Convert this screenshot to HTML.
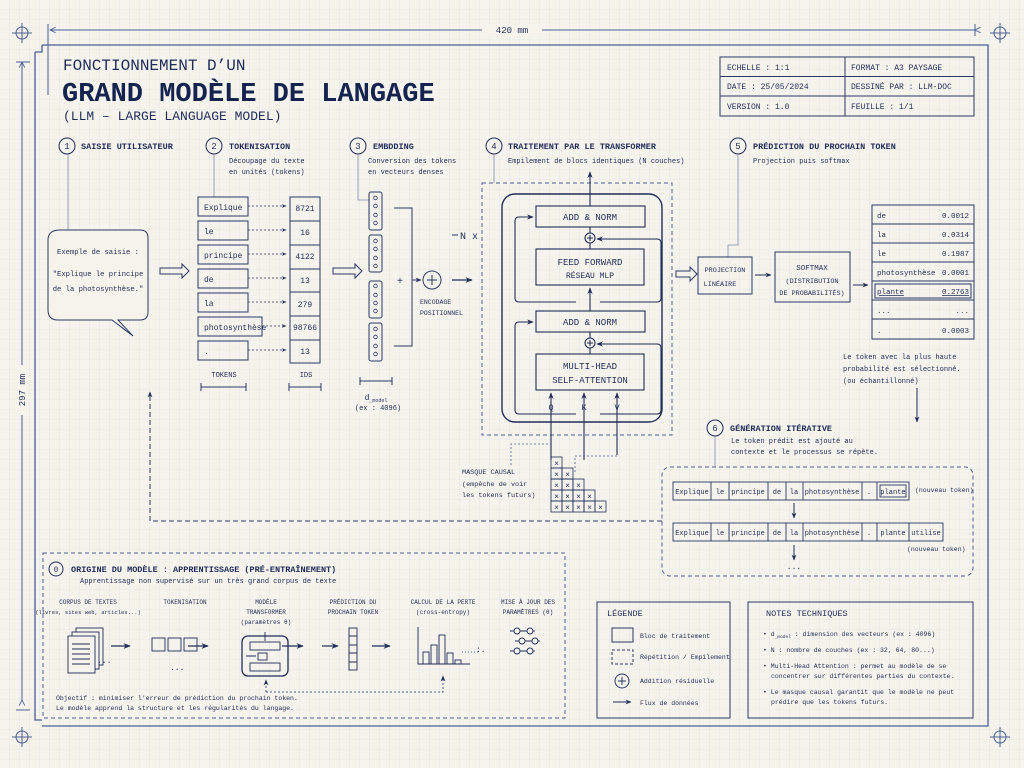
<!DOCTYPE html>
<html><head><meta charset="utf-8"><style>
html,body{margin:0;padding:0;background:#f6f3ec}
svg{display:block}
text{font-family:"Liberation Mono",monospace;fill:#1f2d58}
</style></head><body>
<svg width="1024" height="768" viewBox="0 0 1024 768" xmlns="http://www.w3.org/2000/svg">
<defs>
<pattern id="g" width="10" height="10" patternUnits="userSpaceOnUse"><path d="M10 0V10H0" fill="none" stroke="#d8dde8" stroke-width="0.6"/></pattern>
<marker id="a" viewBox="0 0 10 10" refX="9" refY="5" markerWidth="6" markerHeight="6" orient="auto"><path d="M0 1L10 5L0 9L3 5Z" fill="#1f2d58"/></marker>
<marker id="o" viewBox="0 0 10 10" refX="1" refY="5" markerWidth="7" markerHeight="7" orient="auto"><path d="M9 1L1 5L9 9" fill="none" stroke="#4a5f95" stroke-width="1.2"/></marker>
</defs>
<rect width="1024" height="768" fill="#f6f3ec"/>
<rect width="1024" height="768" fill="url(#g)"/>
<g stroke="#4a5f95" fill="none" stroke-width="1">
<g id="c"><circle cx="22" cy="33" r="6"/><path d="M12 33H32M22 23V43"/></g>
<use href="#c" x="978"/><use href="#c" y="704"/><use href="#c" x="978" y="704"/>
<path d="M50 30H975" marker-start="url(#o)" marker-end="url(#o)"/>
<path d="M48 24V95M975 24V36"/>
<path d="M22 62V700" marker-start="url(#o)" marker-end="url(#o)"/>
<path d="M16 62H30M16 710H30"/>
<path d="M42 45H988V726H42M35 52V720H42" stroke-width="1.3"/>
<path d="M42 45V52H35" stroke-width="1.3"/>
</g>
<rect x="482" y="24" width="60" height="12" fill="#f6f3ec"/>
<text x="512" y="33" font-size="9" text-anchor="middle">420 mm</text>
<rect x="16" y="365" width="12" height="50" fill="#f6f3ec"/>
<text x="25" y="390" font-size="9" text-anchor="middle" transform="rotate(-90 25 390)">297 mm</text>

<text x="63" y="70" font-size="16" fill="#1f2d58">FONCTIONNEMENT D’UN</text>
<text x="62" y="101" font-size="27" font-weight="bold" style="fill:#14244f">GRAND MODÈLE DE LANGAGE</text>
<text x="63" y="120" font-size="13">(LLM – LARGE LANGUAGE MODEL)</text>

<g stroke="#2a3a66" fill="none" stroke-width="1"><rect x="720" y="57" width="254" height="59"/><path d="M720 76.5H974M720 96H974M845 57V116"/></g>
<g font-size="8"><text x="727" y="70">ECHELLE : 1:1</text><text x="851" y="70">FORMAT : A3 PAYSAGE</text>
<text x="727" y="89">DATE : 25/05/2024</text><text x="851" y="89">DESSINÉ PAR : LLM-DOC</text>
<text x="727" y="109">VERSION : 1.0</text><text x="851" y="109">FEUILLE :  1/1</text></g>

<g stroke="#1f2d58" fill="none" stroke-width="1">
<circle cx="67" cy="146" r="8"/><circle cx="214" cy="146" r="8"/><circle cx="358" cy="146" r="8"/><circle cx="494" cy="146" r="8"/><circle cx="738" cy="146" r="8"/><circle cx="715" cy="428" r="8"/><circle cx="56" cy="569" r="7"/>
</g>
<g font-size="9" text-anchor="middle"><text x="67" y="149">1</text><text x="214" y="149">2</text><text x="358" y="149">3</text><text x="494" y="149">4</text><text x="738" y="149">5</text><text x="715" y="431">6</text><text x="56" y="572" font-size="8">0</text></g>
<g font-size="8.5" font-weight="bold">
<text x="81" y="149">SAISIE UTILISATEUR</text><text x="229" y="149">TOKENISATION</text><text x="373" y="149">EMBDDING</text><text x="508" y="149">TRAITEMENT PAR LE TRANSFORMER</text><text x="753" y="149">PRÉDICTION DU PROCHAIN TOKEN</text><text x="730" y="431">GÉNÉRATION ITÉRATIVE</text><text x="71" y="572">ORIGINE DU MODÈLE : APPRENTISSAGE (PRÉ-ENTRAÎNEMENT)</text>
</g>
<g font-size="7">
<text x="229" y="163">Découpage du texte</text><text x="229" y="174">en unités (tokens)</text>
<text x="368" y="163">Conversion des tokens</text><text x="368" y="174">en vecteurs denses</text>
<text x="508" y="163">Empilement de blocs identiques (N couches)</text>
<text x="753" y="163">Projection puis softmax</text>
<text x="731" y="443">Le token prédit est ajouté au</text><text x="731" y="454">contexte et le processus se répète.</text>
<text x="80" y="583">Apprentissage non supervisé sur un très grand corpus de texte</text>
</g>
<g stroke="#7f8db0" fill="none" stroke-width="0.8">
<path d="M68 154V230M214 154V197M358 154V200H369M494 154V183M738 154V245H728V257M715 436V467"/>
</g>

<path d="M60 230H140Q148 230 148 238V312Q148 320 140 320H118L133 336L112 320H58Q48 320 48 310V240Q48 230 60 230Z" fill="#f6f3ec" stroke="#2a3a66" stroke-width="1"/>
<g font-size="7.2" text-anchor="middle"><text x="98" y="254">Exemple de saisie :</text><text x="98" y="276">"Explique le principe</text><text x="98" y="291">de la photosynthèse."</text></g>
<g fill="none" stroke="#2a3a66" stroke-width="1"><path d="M160 268H182V264L189 271L182 278V274H160Z"/><path d="M333 268H355V264L362 271L355 278V274H333Z"/><path d="M676 271H690V267L697 274L690 281V277H676Z"/></g>

<g stroke="#2a3a66" fill="none" stroke-width="1">
<rect x="198" y="197" width="50" height="19"/><rect x="198" y="221" width="50" height="19"/><rect x="198" y="245" width="50" height="19"/><rect x="198" y="269" width="50" height="19"/><rect x="198" y="293" width="50" height="19"/><rect x="198" y="317" width="64" height="19"/><rect x="198" y="341" width="50" height="19"/>
<rect x="290" y="197" width="30" height="166"/><path d="M290 221H320M290 245H320M290 269H320M290 292H320M290 316H320M290 340H320"/>
</g>
<g stroke="#2a3a66" stroke-width="0.8" stroke-dasharray="2 2" marker-end="url(#a)"><path d="M248 206H286"/><path d="M248 230H286"/><path d="M248 254H286"/><path d="M248 278H286"/><path d="M248 302H286"/><path d="M262 326H286"/><path d="M248 350H286"/></g>
<g font-size="8"><text x="204" y="210">Explique</text><text x="204" y="234">le</text><text x="204" y="258">principe</text><text x="204" y="282">de</text><text x="204" y="306">la</text><text x="204" y="330">photosynthèse</text><text x="204" y="354">.</text></g>
<g font-size="8" text-anchor="middle"><text x="305" y="211">8721</text><text x="305" y="235">16</text><text x="305" y="259">4122</text><text x="305" y="283">13</text><text x="305" y="307">279</text><text x="305" y="330">98766</text><text x="305" y="354">13</text></g>
<g font-size="7" text-anchor="middle"><text x="224" y="377">TOKENS</text><text x="306" y="377">IDS</text></g>
<g stroke="#2a3a66" fill="none"><path d="M201 387H246M201 383V391M246 383V391M289 387H321M289 383V391M321 383V391M360 381H392M360 377V385M392 377V385"/></g>
<text x="376" y="400" font-size="8" text-anchor="middle">d<tspan font-size="5" dy="2">_model</tspan></text>
<text x="378" y="410" font-size="7" text-anchor="middle">(ex : 4096)</text>

<g stroke="#2a3a66" fill="none" stroke-width="1">
<rect x="369" y="192" width="13" height="38" rx="2"/><rect x="369" y="235" width="13" height="37" rx="2"/><rect x="369" y="281" width="13" height="37" rx="2"/><rect x="369" y="323" width="13" height="38" rx="2"/>
<g stroke-width="0.8"><circle cx="375.5" cy="198" r="1.8"/><circle cx="375.5" cy="206" r="1.8"/><circle cx="375.5" cy="215" r="1.8"/><circle cx="375.5" cy="223" r="1.8"/>
<circle cx="375.5" cy="241" r="1.8"/><circle cx="375.5" cy="249" r="1.8"/><circle cx="375.5" cy="258" r="1.8"/><circle cx="375.5" cy="266" r="1.8"/>
<circle cx="375.5" cy="286" r="1.8"/><circle cx="375.5" cy="295" r="1.8"/><circle cx="375.5" cy="303" r="1.8"/><circle cx="375.5" cy="311" r="1.8"/>
<circle cx="375.5" cy="329" r="1.8"/><circle cx="375.5" cy="337" r="1.8"/><circle cx="375.5" cy="346" r="1.8"/><circle cx="375.5" cy="354" r="1.8"/></g>
<path d="M394 208H412V346H394"/>
<circle cx="432" cy="280" r="9"/><path d="M427 280H437M432 275V285"/>
</g>
<path d="M412 280H421" stroke="#2a3a66" marker-end="url(#a)"/>
<path d="M452 280H472" stroke="#1f2d58" stroke-width="1.2" marker-end="url(#a)"/>
<text x="400" y="284" font-size="10" text-anchor="middle">+</text>
<g font-size="6.5"><text x="420" y="304">ENCODAGE</text><text x="420" y="315">POSITIONNEL</text></g>
<path d="M452 235H458" stroke="#2a3a66"/>
<text x="460" y="239" font-size="10">N x</text>

<rect x="482" y="183" width="190" height="252" fill="none" stroke="#4a5f95" stroke-dasharray="4 3"/>
<rect x="502" y="194" width="160" height="228" rx="13" fill="none" stroke="#1f2d58" stroke-width="1.4"/>
<g stroke="#1f2d58" fill="none" stroke-width="1.1">
<rect x="536" y="206" width="109" height="21"/><rect x="536" y="249" width="108" height="36"/><rect x="536" y="311" width="109" height="21"/><rect x="536" y="354" width="108" height="36"/>
<circle cx="590" cy="238" r="5"/><path d="M587 238H593M590 235V241"/>
<circle cx="590" cy="343" r="5"/><path d="M587 343H593M590 340V346"/>
<path d="M590 354V348M590 338V332M590 249V243M590 233V227"/>
<path d="M590 311V288" marker-end="url(#a)"/>
<path d="M590 206V172" marker-end="url(#a)"/>
<path d="M576 302H519Q515 302 515 298V221Q515 217 519 217H533" marker-end="url(#a)"/>
<path d="M600 302H657Q661 302 661 298V243Q661 239 657 239H597" marker-end="url(#a)"/>
<path d="M576 414H519Q515 414 515 410V326Q515 322 519 322H533" marker-end="url(#a)"/>
<path d="M600 414H657Q661 414 661 410V348Q661 344 657 344H597" marker-end="url(#a)"/>
<path d="M551 460V393" marker-end="url(#a)"/><path d="M584 460V393" marker-end="url(#a)"/><path d="M617 455V393" marker-end="url(#a)"/>
</g>
<g font-size="9" text-anchor="middle">
<text x="590" y="220">ADD &amp; NORM</text><text x="590" y="265">FEED FORWARD</text><text x="590" y="278" font-size="8">RÉSEAU MLP</text>
<text x="590" y="325">ADD &amp; NORM</text><text x="590" y="369">MULTI-HEAD</text><text x="590" y="383">SELF-ATTENTION</text>
<text x="551" y="410" font-size="8.5">Q</text><text x="584" y="410" font-size="8.5">K</text><text x="617" y="410" font-size="8.5">V</text>
</g>
<g stroke="#4a5f95" fill="none" stroke-width="0.8" stroke-dasharray="2 2"><path d="M511 465V444H551"/><path d="M575 472V456H617V455"/></g>
<g font-size="6.8"><text x="462" y="474">MASQUE CAUSAL</text><text x="462" y="486">(empêche de voir</text><text x="462" y="497">les tokens futurs)</text></g>
<g stroke="#1f2d58" fill="none" stroke-width="0.8">
<rect x="551" y="457" width="11" height="11"/>
<rect x="551" y="468" width="11" height="11"/><rect x="562" y="468" width="11" height="11"/>
<rect x="551" y="479" width="11" height="11"/><rect x="562" y="479" width="11" height="11"/><rect x="573" y="479" width="11" height="11"/>
<rect x="551" y="490" width="11" height="11"/><rect x="562" y="490" width="11" height="11"/><rect x="573" y="490" width="11" height="11"/><rect x="584" y="490" width="11" height="11"/>
<rect x="551" y="501" width="11" height="11"/><rect x="562" y="501" width="11" height="11"/><rect x="573" y="501" width="11" height="11"/><rect x="584" y="501" width="11" height="11"/><rect x="595" y="501" width="11" height="11"/>
</g>
<g font-size="8" text-anchor="middle">
<text x="556.5" y="466">×</text>
<text x="556.5" y="477">×</text><text x="567.5" y="477">×</text>
<text x="556.5" y="488">×</text><text x="567.5" y="488">×</text><text x="578.5" y="488">×</text>
<text x="556.5" y="499">×</text><text x="567.5" y="499">×</text><text x="578.5" y="499">×</text><text x="589.5" y="499">×</text>
<text x="556.5" y="510">×</text><text x="567.5" y="510">×</text><text x="578.5" y="510">×</text><text x="589.5" y="510">×</text><text x="600.5" y="510">×</text>
</g>

<g stroke="#2a3a66" fill="none" stroke-width="1"><rect x="698" y="257" width="54" height="37"/><rect x="775" y="252" width="75" height="50"/>
<rect x="872" y="205" width="102" height="134"/><path d="M872 224H974M872 243H974M872 262H974M872 281H974M872 300H974M872 319H974"/>
<rect x="875" y="284" width="96" height="14"/></g>
<path d="M755 275H771" stroke="#1f2d58" marker-end="url(#a)"/><path d="M853 285H868" stroke="#1f2d58" marker-end="url(#a)"/>
<g font-size="6.8" text-anchor="middle"><text x="725" y="272">PROJECTION</text><text x="720" y="286">LINÉAIRE</text>
<text x="812" y="270" font-size="7.5">SOFTMAX</text><text x="812" y="283">(DISTRIBUTION</text><text x="812" y="295">DE PROBABILITÉS)</text></g>
<g font-size="7.5"><text x="877" y="218">de</text><text x="877" y="237">la</text><text x="877" y="256">le</text><text x="877" y="275">photosynthèse</text><text x="877" y="294" text-decoration="underline">plante</text><text x="877" y="313">...</text><text x="877" y="333">.</text></g>
<g font-size="7.5" text-anchor="end"><text x="969" y="218">0.0012</text><text x="969" y="237">0.0314</text><text x="969" y="256">0.1987</text><text x="969" y="275">0.0001</text><text x="969" y="294" text-decoration="underline">0.2763</text><text x="969" y="313">...</text><text x="969" y="333">0.0003</text></g>
<g font-size="7"><text x="843" y="359">Le token avec la plus haute</text><text x="843" y="371">probabilité est sélectionné.</text><text x="843" y="383">(ou échantillonné)</text></g>
<path d="M917 388V422" stroke="#1f2d58" marker-end="url(#a)"/>

<rect x="662" y="467" width="311" height="109" rx="8" fill="none" stroke="#4a5f95" stroke-dasharray="4 3"/>
<g stroke="#2a3a66" fill="none" stroke-width="0.9">
<rect x="673" y="482" width="236" height="18"/><path d="M711 482V500M729 482V500M768 482V500M786 482V500M803 482V500M862 482V500M877 482V500"/><rect x="880" y="485" width="26" height="12"/>
<rect x="673" y="523" width="270" height="18"/><path d="M711 523V541M729 523V541M768 523V541M786 523V541M803 523V541M862 523V541M877 523V541M909 523V541"/>
</g>
<g font-size="7" text-anchor="middle">
<text x="692" y="494">Explique</text><text x="720" y="494">le</text><text x="748" y="494">principe</text><text x="777" y="494">de</text><text x="794" y="494">la</text><text x="832" y="494">photosynthèse</text><text x="869" y="494">.</text><text x="893" y="494">plante</text>
<text x="692" y="535">Explique</text><text x="720" y="535">le</text><text x="748" y="535">principe</text><text x="777" y="535">de</text><text x="794" y="535">la</text><text x="832" y="535">photosynthèse</text><text x="869" y="535">.</text><text x="893" y="535">plante</text><text x="926" y="535">utilise</text>
</g>
<g font-size="6.5"><text x="915" y="492">(nouveau token)</text><text x="907" y="551">(nouveau token)</text></g>
<path d="M794 503V518" stroke="#1f2d58" marker-end="url(#a)"/><path d="M794 545V560" stroke="#1f2d58" marker-end="url(#a)"/>
<text x="794" y="569" font-size="8" text-anchor="middle">...</text>
<path d="M662 521H150V392" fill="none" stroke="#2a3a66" stroke-dasharray="5 3" marker-end="url(#a)"/>

<rect x="43" y="553" width="522" height="165" fill="none" stroke="#4a5f95" stroke-dasharray="4 3"/>
<g font-size="6" text-anchor="middle">
<text x="88" y="604">CORPUS DE TEXTES</text><text x="88" y="614" font-size="5.5">(livres, sites web, articles...)</text>
<text x="185" y="604">TOKENISATION</text>
<text x="266" y="604">MODÈLE</text><text x="266" y="614">TRANSFORMER</text><text x="266" y="624">(paramètres θ)</text>
<text x="353" y="604">PRÉDICTION DU</text><text x="353" y="614">PROCHAIN TOKEN</text>
<text x="443" y="604">CALCUL DE LA PERTE</text><text x="443" y="614">(cross-entropy)</text>
<text x="528" y="604">MISE À JOUR DES</text><text x="528" y="614">PARAMÈTRES (θ)</text>
</g>
<g stroke="#1f2d58" fill="#f6f3ec" stroke-width="0.9">
<rect x="76" y="628" width="27" height="37"/><rect x="72" y="632" width="27" height="37"/><rect x="68" y="636" width="27" height="37"/>
<path d="M72 644H90M72 649H90M72 654H90M72 659H90M72 664H90" fill="none"/>
<rect x="152" y="638" width="13" height="13" fill="none"/><rect x="168" y="638" width="13" height="13" fill="none"/><rect x="184" y="638" width="13" height="13" fill="none"/>
<rect x="242" y="636" width="46" height="40" rx="6" fill="none" stroke-width="1.3"/>
<rect x="250" y="642" width="30" height="8" fill="none"/><rect x="250" y="663" width="30" height="8" fill="none"/><rect x="258" y="653" width="9" height="7" fill="none"/>
<path d="M246 656H256M265 632V641" fill="none"/>
<rect x="349" y="628" width="8" height="42" fill="none"/><path d="M349 636H357M349 645H357M349 653H357M349 662H357" fill="none"/>
<path d="M418 627V664H470" fill="none"/>
<rect x="423" y="652" width="6" height="12" fill="none"/><rect x="431" y="645" width="6" height="19" fill="none"/><rect x="439" y="635" width="6" height="29" fill="none"/><rect x="447" y="653" width="6" height="11" fill="none"/><rect x="455" y="660" width="6" height="4" fill="none"/>
<path d="M510 631H535M515 641H540M510 651H535" fill="none"/>
<circle cx="517" cy="631" r="3"/><circle cx="530" cy="631" r="3"/><circle cx="522" cy="641" r="3"/><circle cx="535" cy="641" r="3"/><circle cx="517" cy="651" r="3"/><circle cx="530" cy="651" r="3"/>
</g>
<g stroke="#1f2d58" stroke-width="1.2" marker-end="url(#a)"><path d="M111 646H130"/><path d="M188 646H208"/><path d="M282 646H303"/><path d="M322 646H338"/><path d="M372 646H390"/></g>
<g font-size="8"><text x="97" y="663">...</text><text x="170" y="670">...</text><text x="476" y="652">:.</text></g>
<path d="M266 692H443V676" fill="none" stroke="#4a5f95" stroke-dasharray="2 2" marker-end="url(#a)"/>
<path d="M266 692V680" fill="none" stroke="#4a5f95" stroke-dasharray="2 2" marker-end="url(#a)"/>
<path d="M462 652H478" stroke="#4a5f95" stroke-dasharray="1 2"/>
<g font-size="6.5"><text x="56" y="700">Objectif : minimiser l'erreur de prédiction du prochain token.</text><text x="56" y="710">Le modèle apprend la structure et les régularités du langage.</text></g>

<rect x="597" y="602" width="133" height="116" fill="none" stroke="#2a3a66"/>
<text x="607" y="616" font-size="8.5">LÉGENDE</text>
<g stroke="#2a3a66" fill="none"><rect x="612" y="628" width="21" height="14"/><rect x="612" y="650" width="21" height="14" stroke-dasharray="3 2"/><circle cx="622" cy="681" r="7"/><path d="M618 681H626M622 677V685"/></g>
<path d="M613 702H631" stroke="#1f2d58" marker-end="url(#a)"/>
<g font-size="6.5"><text x="640" y="638">Bloc de traitement</text><text x="640" y="659">Répétition / Empilement</text><text x="640" y="683">Addition résiduelle</text><text x="640" y="705">Flux de données</text></g>

<rect x="748" y="602" width="225" height="116" fill="none" stroke="#2a3a66"/>
<text x="766" y="616" font-size="8.5">NOTES TECHNIQUES</text>
<g font-size="6.5"><text x="763" y="636">• d<tspan font-size="4.5" dy="2">_model</tspan><tspan dy="-2"> : dimension des vecteurs (ex : 4096)</tspan></text>
<text x="763" y="652">• N : nombre de couches (ex : 32, 64, 80...)</text>
<text x="763" y="668">• Multi-Head Attention : permet au modèle de se</text><text x="771" y="678">concentrer sur différentes parties du contexte.</text>
<text x="763" y="694">• Le masque causal garantit que le modèle ne peut</text><text x="771" y="704">prédire que les tokens futurs.</text></g>
</svg>
</body></html>
